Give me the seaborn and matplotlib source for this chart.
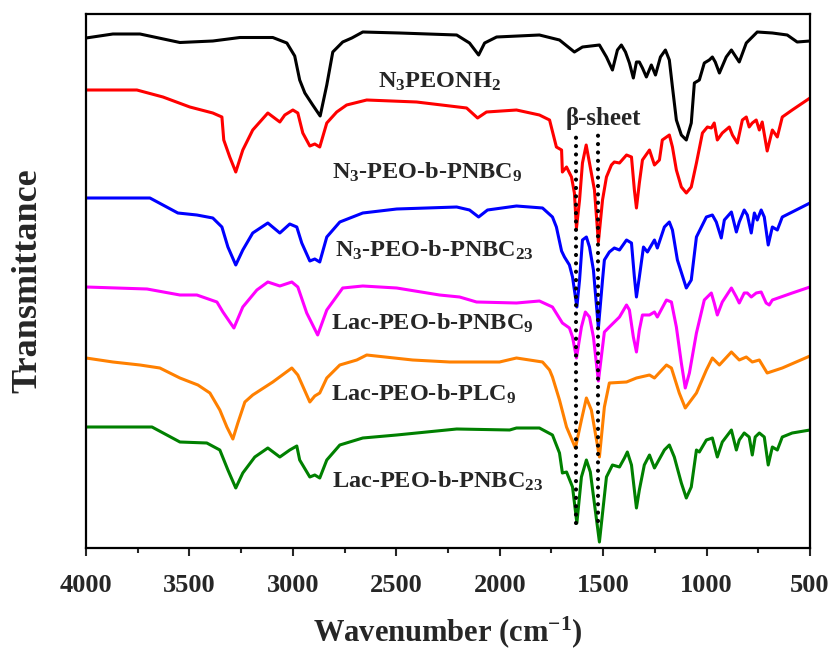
import matplotlib
matplotlib.use("Agg")
import matplotlib.pyplot as plt
import numpy as np
import pandas as pd
import seaborn as sns
from matplotlib.ticker import MultipleLocator

# ---------------- data (transmittance in offset a.u.) -------------
wn_n3peonh2 = [4000, 3870, 3739, 3546, 3387, 3256, 3097, 3029, 2991, 2967, 2942, 2904, 2868, 2836,
               2807, 2759, 2715, 2662, 2484, 2208, 2146, 2102, 2073, 2015, 1808, 1711, 1639, 1600,
               1518, 1484, 1455, 1431, 1412, 1392, 1373, 1354, 1339, 1325, 1310, 1291, 1267, 1247,
               1223, 1199, 1180, 1165, 1146, 1122, 1098, 1074, 1059, 1035, 1011, 987, 972, 958, 938,
               905, 880, 842, 808, 755, 682, 610, 562, 500]
t_n3peonh2 = [5.10, 5.14, 5.14, 5.055, 5.07, 5.105, 5.105, 5.05, 4.92, 4.68, 4.55, 4.43, 4.32, 4.63,
              4.96, 5.06, 5.10, 5.16, 5.15, 5.13, 5.05, 4.93, 5.05, 5.11, 5.13, 5.08, 4.96, 5.01,
              5.03, 4.91, 4.78, 4.98, 5.03, 4.96, 4.85, 4.70, 4.86, 4.86, 4.80, 4.71, 4.83, 4.73,
              4.91, 4.98, 4.88, 4.61, 4.28, 4.13, 4.08, 4.25, 4.65, 4.68, 4.85, 4.88, 4.91, 4.86, 4.75,
              4.91, 4.98, 4.86, 5.05, 5.16, 5.15, 5.13, 5.06, 5.07]

wn_n3_pnbc9 = [4000, 3754, 3628, 3498, 3387, 3343, 3334, 3305, 3276, 3242, 3194, 3121, 3063, 3039,
               3000, 2976, 2952, 2918, 2894, 2870, 2836, 2788, 2740, 2643, 2402, 2160, 2107, 2064,
               1919, 1808, 1759, 1726, 1701, 1697, 1677, 1653, 1639, 1629, 1614, 1600, 1582, 1566,
               1542, 1523, 1503, 1484, 1460, 1446, 1421, 1387, 1363, 1349, 1339, 1325, 1310, 1276,
               1252, 1228, 1214, 1180, 1165, 1146, 1122, 1098, 1074, 1049, 1020, 996, 977, 963, 948,
               924, 890, 875, 851, 827, 808, 794, 779, 760, 745, 731, 707, 682, 658, 634, 586, 500]
t_n3_pnbc9 = [4.58, 4.58, 4.51, 4.41, 4.35, 4.31, 4.08, 3.91, 3.76, 3.98, 4.18, 4.35, 4.26, 4.33,
              4.38, 4.35, 4.15, 4.02, 4.04, 4.01, 4.25, 4.36, 4.43, 4.48, 4.46, 4.40, 4.30, 4.36,
              4.38, 4.33, 4.28, 4.01, 3.98, 3.76, 3.81, 3.71, 3.55, 3.20, 3.48, 3.85, 4.03, 3.85,
              3.58, 3.06, 3.48, 3.71, 3.83, 3.86, 3.85, 3.93, 3.91, 3.58, 3.40, 3.65, 3.88, 3.98,
              3.83, 3.88, 4.08, 4.13, 4.01, 3.78, 3.61, 3.55, 3.61, 3.85, 4.15, 4.21, 4.20, 4.25, 4.08,
              4.15, 4.21, 4.13, 4.05, 4.28, 4.31, 4.21, 4.25, 4.28, 4.18, 4.26, 3.97, 4.18, 4.11, 4.31,
              4.38, 4.50]

wn_n3_pnbc23 = [4000, 3691, 3628, 3556, 3464, 3387, 3343, 3314, 3276, 3242, 3194, 3121, 3063, 3015,
                2981, 2957, 2918, 2894, 2870, 2836, 2773, 2662, 2498, 2208, 2146, 2102, 2059, 1919,
                1793, 1745, 1726, 1701, 1687, 1663, 1648, 1627, 1614, 1600, 1581, 1566, 1547, 1523,
                1503, 1494, 1470, 1446, 1421, 1387, 1363, 1349, 1339, 1325, 1305, 1286, 1252, 1238,
                1204, 1180, 1165, 1141, 1098, 1074, 1049, 1001, 972, 953, 929, 914, 880, 856, 842,
                818, 803, 784, 769, 755, 736, 721, 702, 682, 658, 634, 586, 500]
t_n3_pnbc23 = [3.50, 3.50, 3.43, 3.35, 3.33, 3.30, 3.21, 3.01, 2.83, 2.98, 3.15, 3.25, 3.15, 3.24,
               3.21, 3.05, 2.87, 2.89, 2.86, 3.11, 3.26, 3.35, 3.39, 3.41, 3.38, 3.31, 3.38, 3.42,
               3.40, 3.31, 3.21, 2.97, 2.91, 2.83, 2.71, 2.41, 2.68, 3.08, 3.11, 3.01, 2.78, 2.20,
               2.68, 2.88, 2.96, 3.00, 2.98, 3.08, 3.05, 2.71, 2.51, 2.71, 3.01, 2.96, 3.08, 3.00,
               3.21, 3.26, 3.18, 2.88, 2.60, 2.68, 3.11, 3.31, 3.33, 3.26, 3.10, 3.28, 3.36, 3.16, 3.26,
               3.38, 3.33, 3.15, 3.35, 3.28, 3.38, 3.31, 3.03, 3.21, 3.18, 3.31, 3.36, 3.45]

wn_lac_pnbc9 = [4000, 3705, 3546, 3464, 3367, 3338, 3285, 3242, 3174, 3121, 3063, 3005, 2976, 2933,
                2880, 2836, 2759, 2662, 2498, 2291, 2194, 2112, 1919, 1808, 1745, 1697, 1663, 1648,
                1629, 1605, 1586, 1566, 1547, 1523, 1494, 1470, 1421, 1387, 1373, 1354, 1339, 1325,
                1310, 1276, 1252, 1238, 1194, 1170, 1146, 1122, 1103, 1083, 1049, 1011, 977, 963, 948,
                924, 880, 856, 842, 818, 803, 784, 760, 736, 712, 697, 682, 586, 500]
t_lac_pnbc9 = [2.61, 2.59, 2.53, 2.53, 2.46, 2.36, 2.20, 2.41, 2.58, 2.66, 2.62, 2.66, 2.61, 2.35,
               2.13, 2.38, 2.60, 2.62, 2.60, 2.53, 2.51, 2.46, 2.45, 2.47, 2.41, 2.25, 2.20, 2.11,
               1.90, 2.21, 2.36, 2.31, 2.11, 1.67, 2.16, 2.21, 2.31, 2.43, 2.38, 2.11, 1.96, 2.18,
               2.33, 2.33, 2.36, 2.31, 2.48, 2.46, 2.21, 1.85, 1.60, 1.75, 2.15, 2.48, 2.55, 2.45, 2.33,
               2.46, 2.60, 2.51, 2.45, 2.55, 2.55, 2.51, 2.55, 2.56, 2.45, 2.43, 2.48, 2.55, 2.61]

wn_lac_plc9 = [4000, 3870, 3739, 3643, 3546, 3459, 3401, 3353, 3319, 3290, 3266, 3232, 3194, 3097,
               3005, 2976, 2918, 2894, 2870, 2836, 2773, 2691, 2643, 2421, 2242, 2001, 1919, 1793,
               1759, 1745, 1711, 1677, 1634, 1605, 1581, 1557, 1518, 1494, 1470, 1387, 1339, 1276,
               1252, 1194, 1170, 1132, 1103, 1049, 1001, 972, 938, 880, 842, 808, 779, 745, 707, 634,
               500]
t_lac_plc9 = [1.90, 1.86, 1.83, 1.80, 1.70, 1.63, 1.55, 1.38, 1.21, 1.09, 1.25, 1.46, 1.53, 1.66,
              1.80, 1.73, 1.46, 1.52, 1.55, 1.70, 1.83, 1.88, 1.93, 1.88, 1.86, 1.86, 1.90, 1.86,
              1.78, 1.71, 1.48, 1.21, 1.00, 1.28, 1.50, 1.38, 0.91, 1.41, 1.65, 1.66, 1.70, 1.73,
              1.70, 1.83, 1.80, 1.55, 1.40, 1.55, 1.78, 1.90, 1.83, 1.96, 1.88, 1.91, 1.86, 1.88, 1.75,
              1.80, 1.92]

wn_lac_pnbc23 = [4000, 3681, 3609, 3546, 3416, 3353, 3314, 3276, 3242, 3184, 3121, 3063, 3015, 2981,
                 2967, 2918, 2894, 2870, 2836, 2773, 2662, 2498, 2208, 1952, 1919, 1808, 1745, 1711,
                 1697, 1677, 1648, 1627, 1605, 1581, 1562, 1518, 1484, 1455, 1421, 1397, 1383, 1363,
                 1339, 1325, 1301, 1276, 1252, 1204, 1180, 1156, 1122, 1098, 1074, 1049, 1035, 1001,
                 972, 948, 924, 880, 856, 842, 818, 794, 779, 765, 745, 721, 702, 682, 658, 634, 586,
                 500]
t_lac_pnbc23 = [1.21, 1.21, 1.13, 1.06, 1.05, 0.98, 0.78, 0.60, 0.75, 0.91, 1.00, 0.91, 0.98, 1.02,
                0.88, 0.71, 0.73, 0.70, 0.88, 1.03, 1.10, 1.13, 1.19, 1.18, 1.20, 1.20, 1.13, 0.95,
                0.75, 0.76, 0.61, 0.25, 0.71, 0.88, 0.76, 0.06, 0.71, 0.83, 0.81, 0.90, 0.96, 0.83,
                0.40, 0.58, 0.83, 0.93, 0.80, 0.98, 1.03, 0.91, 0.65, 0.50, 0.61, 0.98, 0.96, 1.08,
                1.10, 0.91, 1.06, 1.18, 0.98, 1.08, 1.15, 1.11, 0.93, 1.11, 1.15, 1.11, 0.83, 1.01,
                0.98, 1.11, 1.15, 1.18]

samples = ["N3PEONH2", "N3-PEO-b-PNBC9", "N3-PEO-b-PNBC23",
           "Lac-PEO-b-PNBC9", "Lac-PEO-b-PLC9", "Lac-PEO-b-PNBC23"]
labels = [r"N$_{3}$PEONH$_{2}$", r"N$_{3}$-PEO-b-PNBC$_{9}$", r"N$_{3}$-PEO-b-PNBC$_{23}$",
          r"Lac-PEO-b-PNBC$_{9}$", r"Lac-PEO-b-PLC$_{9}$", r"Lac-PEO-b-PNBC$_{23}$"]
label_wn = [2590, 2812, 2798, 2817, 2817, 2812]
label_t = [4.60, 3.69, 2.91, 2.18, 1.47, 0.60]
colors = ["#000000", "#ff0000", "#0000ff", "#ff00ff", "#ff8000", "#008000"]

beta_wn = [1630, 1523]
beta_top = [4.13, 4.13]
beta_bottom = [0.25, 0.27]
beta_text_wn, beta_text_t = 1499, 4.30

x_ticks = [4000, 3500, 3000, 2500, 2000, 1500, 1000, 500]

# ---------------- assemble ---------------------------------------------------------------
series = [(wn_n3peonh2, t_n3peonh2), (wn_n3_pnbc9, t_n3_pnbc9), (wn_n3_pnbc23, t_n3_pnbc23),
          (wn_lac_pnbc9, t_lac_pnbc9), (wn_lac_plc9, t_lac_plc9), (wn_lac_pnbc23, t_lac_pnbc23)]
frames = []
for name, (w, t) in zip(samples, series):
    frames.append(pd.DataFrame({"wn": w, "T": t, "sample": name}))
df = pd.concat(frames, ignore_index=True)

sns.set_style("ticks")
plt.rcParams['font.family'] = ['Liberation Serif', 'DejaVu Serif']
plt.rcParams['font.weight'] = 'bold'
plt.rcParams['mathtext.fontset'] = 'custom'
plt.rcParams['mathtext.rm'] = 'Liberation Serif:bold'
plt.rcParams['mathtext.it'] = 'Liberation Serif:bold'
plt.rcParams['mathtext.bf'] = 'Liberation Serif:bold'

fig = plt.figure(figsize=(8.35, 6.55), dpi=100)
ax = fig.add_axes([86 / 835, 1 - 548 / 655, 724 / 835, 534 / 655])

sns.lineplot(data=df, x="wn", y="T", hue="sample", hue_order=samples,
             palette=dict(zip(samples, colors)), sort=False, estimator=None,
             legend=False, linewidth=2.2, ax=ax)
for ln in ax.lines:
    ln.set_solid_joinstyle("round")

ax.vlines(beta_wn, beta_bottom, beta_top, colors="black", linestyles=(0, (0.01, 2.0)),
          linewidth=3.0, capstyle="round")
for ln in ax.collections:
    ln.set_capstyle("round")
ax.text(beta_text_wn, beta_text_t, "β-sheet", fontsize=18, fontweight="bold",
        ha="center", va="center")

for lab, xw, yt in zip(labels, label_wn, label_t):
    ax.text(xw, yt, lab, fontsize=17.5, fontweight="bold", ha="left", va="baseline")

ax.set_xlim(4000, 500)
ax.set_ylim(0, 5.34)
ax.set_xticks(x_ticks)
ax.set_xticklabels([str(v) for v in x_ticks])
ax.xaxis.set_minor_locator(MultipleLocator(250))
ax.set_yticks([])
ax.tick_params(axis="x", which="major", direction="out", length=6, width=1.5,
               labelsize=19, pad=13)
ax.tick_params(axis="x", which="minor", direction="out", length=3.5, width=1.5)
for lbl in ax.get_xticklabels():
    lbl.set_fontweight("bold")
for sp in ax.spines.values():
    sp.set_visible(True)
    sp.set_linewidth(1.6)
    sp.set_color("black")

ax.set_xlabel(r"Wavenumber (cm$^{-1}$)", fontsize=22, fontweight="bold", labelpad=12)
ax.set_ylabel("Transmittance", fontsize=26, fontweight="bold", labelpad=30)

fig.savefig("out.png", dpi=100)
